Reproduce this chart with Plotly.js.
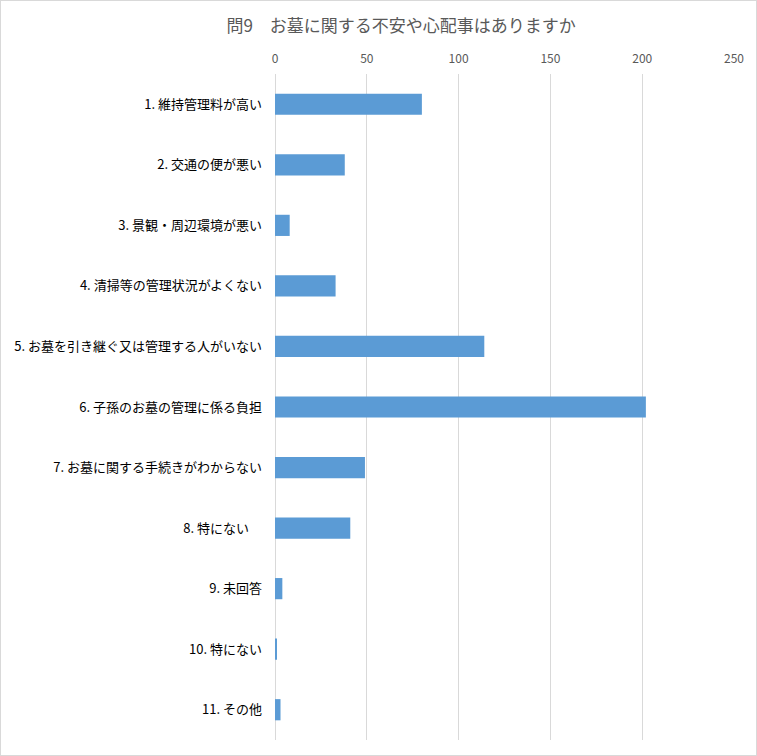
<!DOCTYPE html>
<html>
<head>
<meta charset="utf-8">
<script src="https://cdn.plot.ly/plotly-3.0.1.min.js"></script>
<style>
  html, body { margin: 0; padding: 0; background: #fff; }
  #chart { width: 755px; height: 754px; border: 1px solid #d9d9d9; }
</style>
</head>
<body>
<div id="chart"></div>
<script>
// 問9 お墓に関する不安や心配事
var categories = [
  "1. 維持管理料が高い",
  "2. 交通の便が悪い",
  "3. 景観・周辺環境が悪い",
  "4. 清掃等の管理状況がよくない",
  "5. お墓を引き継ぐ又は管理する人がいない",
  "6. 子孫のお墓の管理に係る負担",
  "7. お墓に関する手続きがわからない",
  "8. 特にない\u3000",
  "9. 未回答",
  "10. 特にない",
  "11. その他"
];
var counts = [80, 38, 8, 33, 114, 202, 49, 41, 4, 1, 3];
var tickVals = [0, 50, 100, 150, 200, 250];

var bars = {
  type: "bar",
  orientation: "h",
  x: counts,
  y: categories,
  marker: { color: "#5b9bd5" },
  hoverinfo: "x+y"
};

Plotly.newPlot("chart", [bars], {
  width: 755,
  height: 754,
  paper_bgcolor: "#fff",
  plot_bgcolor: "#fff",
  showlegend: false,
  bargap: 0.65,
  margin: { l: 274, r: 22, t: 73, b: 15 },
  font: { family: "'Noto Sans CJK JP', sans-serif", size: 12, color: "#595959" },
  title: {
    text: "問9　お墓に関する不安や心配事はありますか",
    font: { family: "'Noto Sans CJK JP', sans-serif", size: 17, color: "#595959" },
    x: 0.53,
    xanchor: "center",
    y: 0.967,
    yanchor: "middle"
  },
  xaxis: {
    side: "top",
    range: [0, 250],
    tickvals: tickVals,
    ticktext: tickVals.map(String),
    showgrid: true,
    gridcolor: "#d9d9d9",
    gridwidth: 1,
    zeroline: true,
    zerolinecolor: "#d9d9d9",
    zerolinewidth: 1,
    showline: false,
    ticks: "",
    ticklabelstandoff: 8,
    tickfont: { size: 12, color: "#595959" },
    fixedrange: true
  },
  yaxis: {
    type: "category",
    autorange: "reversed",
    showgrid: false,
    zeroline: false,
    showline: false,
    ticks: "",
    ticklabelstandoff: 12,
    tickfont: { size: 13, color: "#000" },
    fixedrange: true
  }
}, { displayModeBar: false });
</script>
</body>
</html>
